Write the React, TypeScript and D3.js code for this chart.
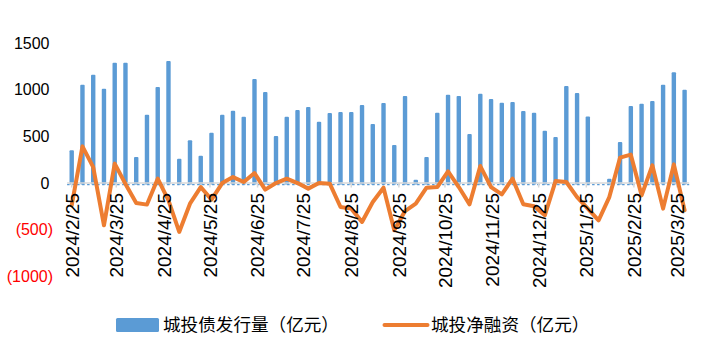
import React from "react";
import * as d3 from "d3";

const dates: string[] = [
  "2024-02-25", "2024-03-03", "2024-03-10", "2024-03-17", "2024-03-24", "2024-03-31",
  "2024-04-07", "2024-04-14", "2024-04-21", "2024-04-28",
  "2024-05-05", "2024-05-12", "2024-05-19", "2024-05-26",
  "2024-06-02", "2024-06-09", "2024-06-16", "2024-06-23", "2024-06-30",
  "2024-07-07", "2024-07-14", "2024-07-21", "2024-07-28",
  "2024-08-04", "2024-08-11", "2024-08-18", "2024-08-25",
  "2024-09-01", "2024-09-08", "2024-09-15", "2024-09-22", "2024-09-29",
  "2024-10-06", "2024-10-13", "2024-10-20", "2024-10-27",
  "2024-11-03", "2024-11-10", "2024-11-17", "2024-11-24",
  "2024-12-01", "2024-12-08", "2024-12-15", "2024-12-22", "2024-12-29",
  "2025-01-05", "2025-01-12", "2025-01-19", "2025-01-26",
  "2025-02-02", "2025-02-09", "2025-02-16", "2025-02-23",
  "2025-03-02", "2025-03-09", "2025-03-16", "2025-03-23", "2025-03-30",
];

const issuance: number[] = [
  350, 1053, 1160, 1010, 1289, 1289, 278, 732, 1028, 1306,
  261, 457, 293, 540, 732, 775, 711, 1114, 974, 503,
  711, 782, 814, 657, 750, 760, 760, 835, 632, 857,
  407, 932, 36, 278, 753, 946, 932, 525, 957, 900,
  861, 868, 771, 753, 561, 493, 1039, 964, 714, 0,
  47, 439, 824, 850, 878, 1053, 1188, 1000,
];

const netFinancing: number[] = [
  -239, 393, 171, -453, 208, -10, -214, -231, 47, -185,
  -524, -221, -43, -178, 0, 64, 11, 107, -71, 0,
  47, 0, -60, 0, -7, -257, -274, -417, -203, -50,
  -506, -300, -221, -50, -43, 125, -43, -228, 182, -43,
  -121, 47, -228, -249, -346, 21, 11, -150, -274, -399,
  -150, 272, 304, -132, 190, -274, 200, -292,
];

const tickDates: string[] = [
  "2024-02-25", "2024-03-25", "2024-04-25", "2024-05-25", "2024-06-25", "2024-07-25",
  "2024-08-25", "2024-09-25", "2024-10-25", "2024-11-25", "2024-12-25",
  "2025-01-25", "2025-02-25", "2025-03-25",
];
const yTicks: number[] = [1500, 1000, 500, 0, -500, -1000];

const seriesNames: string[] = ["城投债发行量（亿元）", "城投净融资（亿元）"];

const BLUE = "#5B9BD5";
const ORANGE = "#ED7D31";
const LATIN = "'Liberation Sans', Arial, sans-serif";
const CJK = "'Noto Sans CJK SC', sans-serif";

const parse = d3.utcParse("%Y-%m-%d");

function fmtTick(d: Date) {
  return `${d.getUTCFullYear()}/${d.getUTCMonth() + 1}/${d.getUTCDate()}`;
}
function fmtY(v: number) {
  return v < 0 ? `(${Math.abs(v)})` : `${v}`;
}

export default function App() {
  const W = 709;
  const H = 355;
  const parsed = dates.map((s) => parse(s) as Date);
  const first = parsed[0];
  const last = parsed[parsed.length - 1];
  const DAY = 86400000;
  const x = d3
    .scaleUtc()
    .domain([new Date(first.getTime() - 3 * DAY), new Date(last.getTime() + 3 * DAY)])
    .range([67.1, 689.2]);
  const y = d3.scaleLinear().domain([-1000, 1500]).range([276.4, 43]);
  const y0 = y(0);
  const barW = 4.4;

  const line = d3
    .line<number>()
    .x((_, i) => x(parsed[i]))
    .y((v) => y(v));

  return (
    <svg
      width={W}
      height={H}
      style={{ position: "absolute", left: 0, top: 0, background: "#fff" }}
    >
      <rect x={0} y={0} width={W} height={H} fill="#fff" />
      {/* y labels */}
      {yTicks.map((t) => (
        <text
          key={t}
          x={t < 0 ? 53 : 49.5}
          y={y(t)}
          dy="0.36em"
          textAnchor="end"
          fontFamily={LATIN}
          fontSize={16}
          fill={t < 0 ? "#FF0000" : "#000"}
        >
          {fmtY(t)}
        </text>
      ))}
      {/* bars */}
      {issuance.map((v, i) =>
        v > 0 ? (
          <rect
            key={i}
            x={x(parsed[i]) - barW / 2}
            y={y(v)}
            width={barW}
            height={y0 - y(v) + 1.5}
            rx={1}
            fill={BLUE}
          />
        ) : null
      )}
      {/* dotted blue under axis */}
      <line
        x1={x.range()[0]}
        x2={x.range()[1]}
        y1={y0 + 1.6}
        y2={y0 + 1.6}
        stroke={BLUE}
        strokeWidth={1.3}
        strokeDasharray="2.5,2.5"
      />
      {/* axis line */}
      <line
        x1={x.range()[0]}
        x2={x.range()[1]}
        y1={y0}
        y2={y0}
        stroke="#D9D9D9"
        strokeWidth={1.5}
      />
      {tickDates.map((s) => {
        const d = parse(s) as Date;
        return (
          <line
            key={"t" + s}
            x1={x(d)}
            x2={x(d)}
            y1={y0}
            y2={y0 + 4.5}
            stroke="#D9D9D9"
            strokeWidth={1.5}
          />
        );
      })}
      {/* line series */}
      <path
        d={line(netFinancing) || ""}
        fill="none"
        stroke={ORANGE}
        strokeWidth={4}
        strokeLinejoin="round"
        strokeLinecap="round"
      />
      {/* x labels */}
      {tickDates.map((s) => {
        const d = parse(s) as Date;
        const tx = x(d);
        const ty = 193;
        return (
          <text
            key={"l" + s}
            transform={`translate(${tx},${ty}) rotate(-90)`}
            dy="0.36em"
            textAnchor="end"
            fontFamily={LATIN}
            fontSize={19}
            fill="#000"
          >
            {fmtTick(d)}
          </text>
        );
      })}
      {/* legend */}
      <rect x={116} y={318} width={43} height={14} rx={1.5} fill={BLUE} />
      <text x={163} y={325} dy="0.36em" fontFamily={CJK} fontSize={17.6} fill="#000">
        {seriesNames[0]}
      </text>
      <line x1={384.5} x2={427.5} y1={325} y2={325} stroke={ORANGE} strokeWidth={4} strokeLinecap="round" />
      <text x={431} y={325} dy="0.36em" fontFamily={CJK} fontSize={17.6} fill="#000">
        {seriesNames[1]}
      </text>
    </svg>
  );
}
